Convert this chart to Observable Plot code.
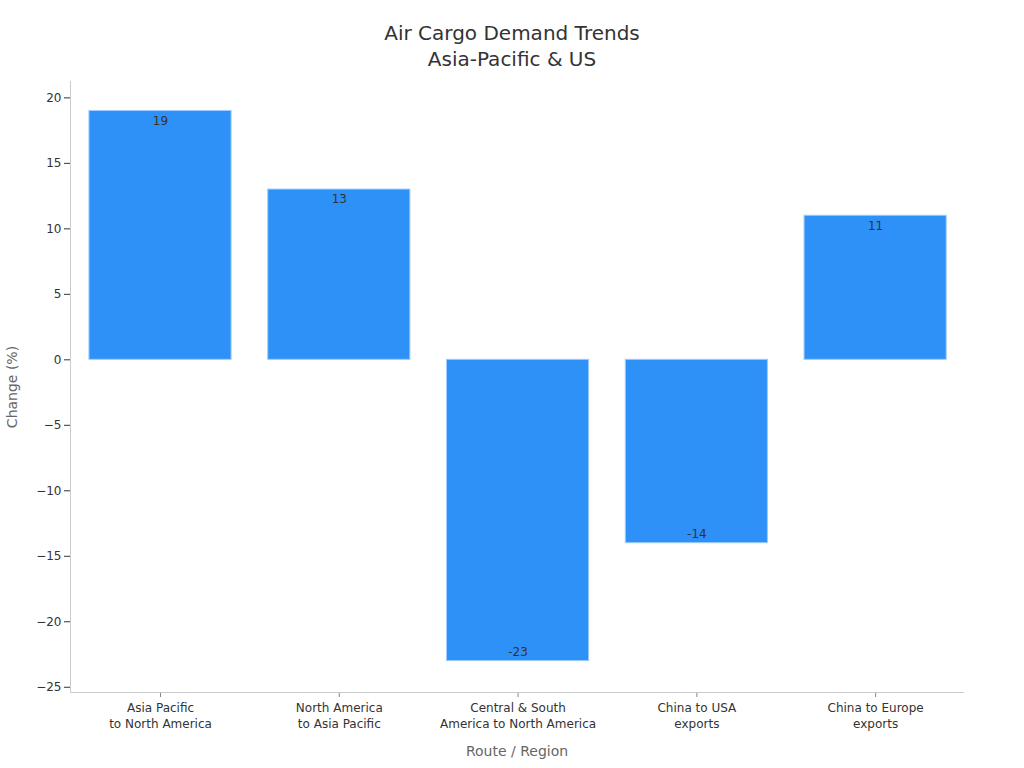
<!DOCTYPE html>
<html>
<head>
<meta charset="utf-8">
<script src="https://cdn.jsdelivr.net/npm/d3@7"></script>
<script src="https://cdn.jsdelivr.net/npm/@observablehq/plot@0.6"></script>
<style>
  html, body { margin: 0; background: #fff; font-family: "DejaVu Sans", sans-serif; overflow: hidden; }
  #title { width: 1024px; text-align: center; font-size: 20px; line-height: 26px; color: #333; padding-top: 20px; height: 52px; }
  #chart svg { display: block; }
</style>
</head>
<body>
<div id="title">Air Cargo Demand Trends<br>Asia-Pacific &amp; US</div>
<div id="chart"></div>
<script>
const routes = [
  "Asia Pacific\nto North America",
  "North America\nto Asia Pacific",
  "Central & South\nAmerica to North America",
  "China to USA\nexports",
  "China to Europe\nexports"
];
const changes = [19, 13, -23, -14, 11];
const yTicks = [-25, -20, -15, -10, -5, 0, 5, 10, 15, 20];

const data = routes.map((r, i) => ({route: r, value: changes[i]}));
const pos = data.filter(d => d.value >= 0);
const neg = data.filter(d => d.value < 0);

const chart = Plot.plot({
  width: 1024,
  height: 696,
  marginTop: 9,
  marginBottom: 76,
  marginLeft: 70,
  marginRight: 61,
  style: {fontFamily: "DejaVu Sans, sans-serif", fontSize: "12px", color: "#333", background: "#fff"},
  x: {domain: routes, paddingInner: 0.205, paddingOuter: 0.1, align: 0.53, round: false},
  y: {domain: [-25.4, 21.25]},
  marks: [
    Plot.barY(data, {x: "route", y: "value", fill: "#2e91f8", stroke: "#9ccbff", strokeWidth: 1}),
    Plot.text(pos, {x: "route", y: "value", text: d => String(d.value), dy: 10, fill: "#333", fontSize: 12}),
    Plot.text(neg, {x: "route", y: "value", text: d => String(d.value), dy: -9, fill: "#333", fontSize: 12}),
    Plot.axisY({
      ticks: yTicks, tickSize: 6, tickPadding: 3, stroke: "#333",
      label: null, fontSize: 12
    }),
    Plot.axisY({
      ticks: [], tickSize: 0,
      label: "Change (%)", labelAnchor: "center", labelArrow: "none", labelOffset: 63,
      fontSize: 14, color: "#666"
    }),
    Plot.axisX({
      tickSize: 5, tickPadding: 3, stroke: "#888", lineHeight: 1.33,
      label: null, fontSize: 12
    }),
    Plot.axisX({
      ticks: [], tickSize: 0,
      label: "Route / Region", labelAnchor: "center", labelArrow: "none", labelOffset: 63,
      fontSize: 14, color: "#666"
    }),
    Plot.frame({anchor: "left", stroke: "#ccc"}),
    Plot.frame({anchor: "bottom", stroke: "#ccc"})
  ]
});
document.getElementById("chart").appendChild(chart);
</script>
</body>
</html>
